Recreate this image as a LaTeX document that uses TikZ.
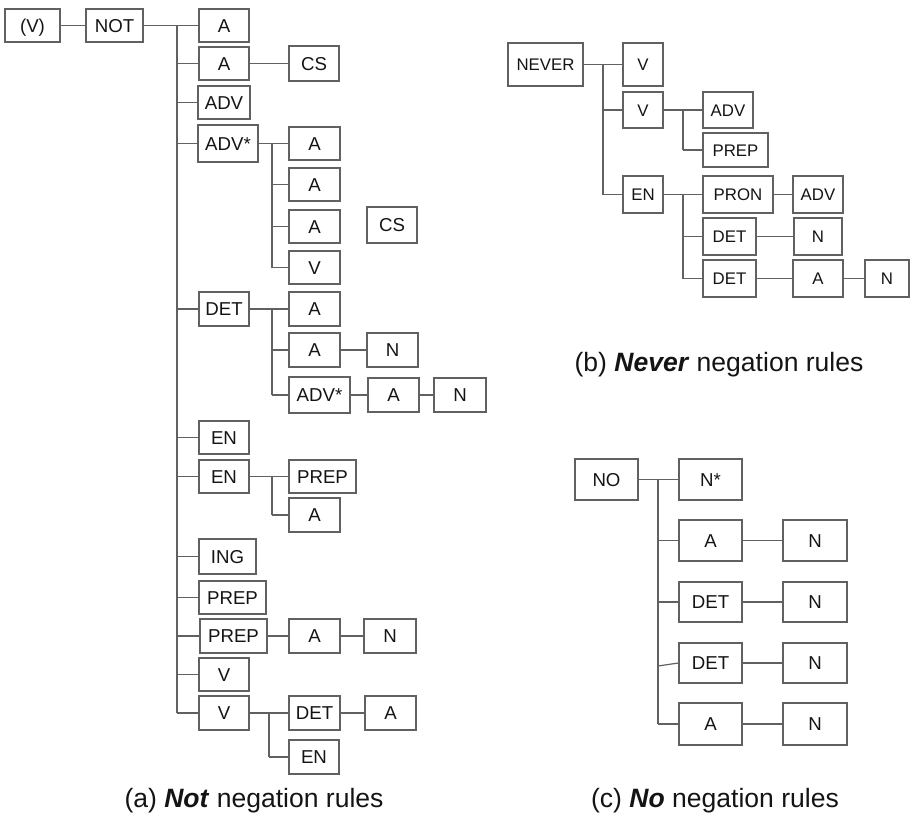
\documentclass[tikz,border=0pt]{standalone}
\usepackage{fontspec}
\setmainfont{Liberation Sans}
\usetikzlibrary{calc}
\definecolor{linec}{gray}{0.38}
\definecolor{inkc}{gray}{0.08}
\tikzset{
  box/.style={draw=linec, line width=0.9pt, inner sep=0pt, text=inkc,
    font=\fontsize{14}{15}\selectfont, text height=10pt, text depth=0pt},
  boxs/.style={box, font=\fontsize{12.6}{13}\selectfont, text height=9pt},
  link/.style={draw=linec, line width=0.9pt},
  captxt/.style={inner sep=0pt, text=inkc, font=\fontsize{19.9}{22}\selectfont},
}
% \mkbox{style}{name}{x1}{x2}{y1}{y2}{label}, corners given in pixel units
\newcommand\mkbox[7]{\node[#1, minimum width={(#4-#3)*0.75pt}, minimum height={(#6-#5)*0.75pt}] (#2) at ({(#3+#4)/2},{(#5+#6)/2}) {#7};}
\begin{document}
\begin{tikzpicture}[x=0.75pt, y=-0.75pt]
\useasboundingbox (0,0) rectangle (910,815);
\clip (0,0) rectangle (910,815);

% ---------------- (a) NOT rules ----------------
\mkbox{box}{v}{5}{60}{9}{42}{(V)}
\mkbox{box}{not}{86}{143}{9}{42}{NOT}
\coordinate (t1) at (177,0);
\mkbox{box}{n1}{199}{249}{9}{42}{A}
\mkbox{box}{n2}{199}{249}{47}{80}{A}
\mkbox{box}{n2a}{289}{339}{46}{81}{CS}
\mkbox{box}{n3}{198}{250}{86}{119}{ADV}
\mkbox{box}{n4}{198}{258}{125}{162}{ADV*}
\coordinate (t4) at (272,0);
\mkbox{box}{n4a}{289}{340}{127}{160}{A}
\mkbox{box}{n4b}{289}{340}{168}{201}{A}
\mkbox{box}{n4c}{289}{340}{210}{243}{A}
\mkbox{box}{n4x}{367}{417}{207}{243}{CS}
\mkbox{box}{n4d}{289}{340}{251}{284}{V}
\mkbox{box}{n5}{199}{249}{292}{326}{DET}
\coordinate (t5) at (272,0);
\mkbox{box}{n5a}{289}{340}{292}{326}{A}
\mkbox{box}{n5b}{289}{340}{333}{367}{A}
\mkbox{box}{n5bn}{367}{418}{333}{367}{N}
\mkbox{box}{n5c}{289}{350}{377}{413}{ADV*}
\mkbox{box}{n5ca}{368}{419}{378}{412}{A}
\mkbox{box}{n5cn}{434}{486}{378}{412}{N}
\mkbox{box}{n6}{199}{249}{421}{454}{EN}
\mkbox{box}{n7}{199}{249}{460}{493}{EN}
\coordinate (t7) at (272,0);
\mkbox{box}{n7a}{289}{356}{460}{493}{PREP}
\mkbox{box}{n7b}{289}{340}{498}{532}{A}
\mkbox{box}{n8}{199}{256}{539}{574}{ING}
\mkbox{box}{n9}{199}{266}{581}{614}{PREP}
\mkbox{box}{n10}{200}{267}{619}{653}{PREP}
\mkbox{box}{n10a}{289}{340}{619}{653}{A}
\mkbox{box}{n10n}{364}{416}{619}{653}{N}
\mkbox{box}{n11}{199}{249}{658}{691}{V}
\mkbox{box}{n12}{199}{249}{696}{730}{V}
\coordinate (t12) at (269,0);
\mkbox{box}{n12a}{289}{340}{696}{730}{DET}
\mkbox{box}{n12an}{365}{416}{696}{730}{A}
\mkbox{box}{n12b}{289}{339}{740}{774}{EN}

\draw[link] (v) -- (not);
\draw[link] (not.east) -- (not.east -| t1) -- (n12.west -| t1);
\foreach \c in {n1,n2,n3,n4,n5,n6,n7,n8,n9,n10,n11,n12}
  \draw[link] (\c.west) -- (\c.west -| t1);
\draw[link] (n2) -- (n2a);
\draw[link] (n4.east) -- (n4.east -| t4) -- (n4d.west -| t4);
\foreach \c in {n4a,n4b,n4c,n4d}
  \draw[link] (\c.west) -- (\c.west -| t4);
\draw[link] (n5.east) -- (n5.east -| t5) -- (n5c.west -| t5);
\foreach \c in {n5a,n5b,n5c}
  \draw[link] (\c.west) -- (\c.west -| t5);
\draw[link] (n5b) -- (n5bn);
\draw[link] (n5c) -- (n5ca) -- (n5cn);
\draw[link] (n7.east) -- (n7.east -| t7) -- (n7b.west -| t7);
\foreach \c in {n7a,n7b}
  \draw[link] (\c.west) -- (\c.west -| t7);
\draw[link] (n10) -- (n10a) -- (n10n);
\draw[link] (n12.east) -- (n12.east -| t12) -- (n12b.west -| t12);
\foreach \c in {n12a,n12b}
  \draw[link] (\c.west) -- (\c.west -| t12);
\draw[link] (n12a) -- (n12an);

\node[captxt, anchor=base] (capa) at (254,807) {(a) \textbf{\textit{Not}} negation rules};

% ---------------- (b) NEVER rules ----------------
\mkbox{boxs}{nev}{508}{583}{43}{86}{NEVER}
\coordinate (tb) at (603,0);
\mkbox{boxs}{b1}{623}{663}{43}{86}{V}
\mkbox{boxs}{b2}{623}{663}{92}{128}{V}
\coordinate (tb2) at (683,0);
\mkbox{boxs}{b2a}{703}{753}{92}{128}{ADV}
\mkbox{boxs}{b2b}{703}{768}{133}{167}{PREP}
\mkbox{boxs}{b3}{623}{663}{176}{213}{EN}
\coordinate (tb3) at (683,0);
\mkbox{boxs}{b3a}{703}{773}{176}{213}{PRON}
\mkbox{boxs}{b3an}{793}{843}{176}{213}{ADV}
\mkbox{boxs}{b3b}{703}{756}{218}{255}{DET}
\mkbox{boxs}{b3bn}{794}{842}{218}{255}{N}
\mkbox{boxs}{b3c}{703}{756}{260}{297}{DET}
\mkbox{boxs}{b3ca}{793}{843}{260}{297}{A}
\mkbox{boxs}{b3cn}{865}{909}{260}{297}{N}

\draw[link] (nev.east) -- (nev.east -| tb) -- (b3.west -| tb);
\foreach \c in {b1,b2,b3}
  \draw[link] (\c.west) -- (\c.west -| tb);
\draw[link] (b2.east) -- (b2.east -| tb2) -- (b2b.west -| tb2);
\foreach \c in {b2a,b2b}
  \draw[link] (\c.west) -- (\c.west -| tb2);
\draw[link] (b3.east) -- (b3.east -| tb3) -- (b3c.west -| tb3);
\foreach \c in {b3a,b3b,b3c}
  \draw[link] (\c.west) -- (\c.west -| tb3);
\draw[link] (b3a) -- (b3an);
\draw[link] (b3b) -- (b3bn);
\draw[link] (b3c) -- (b3ca) -- (b3cn);

\node[captxt, anchor=base] (capb) at (719,371) {(b) \textbf{\textit{Never}} negation rules};

% ---------------- (c) NO rules ----------------
\mkbox{box}{no}{575}{638}{459}{500}{NO}
\coordinate (tc) at (658,0);
\mkbox{box}{c1}{679}{742}{459}{500}{N*}
\mkbox{box}{c2}{679}{742}{520}{561}{A}
\mkbox{box}{c2n}{783}{847}{520}{561}{N}
\mkbox{box}{c3}{679}{742}{582}{622}{DET}
\mkbox{box}{c3n}{783}{847}{582}{622}{N}
\mkbox{box}{c4}{679}{742}{643}{683}{DET}
\mkbox{box}{c4n}{783}{847}{643}{683}{N}
\mkbox{box}{c5}{679}{742}{703}{745}{A}
\mkbox{box}{c5n}{783}{847}{703}{745}{N}

\draw[link] (no.east) -- (no.east -| tc) -- (c5.west -| tc);
\foreach \c in {c1,c2,c3,c5}
  \draw[link] (\c.west) -- (\c.west -| tc);
% this branch meets the trunk a little lower than the box centre
\draw[link] (c4.west) -- ($(c4.west -| tc)+(0,3)$);
\foreach \c in {c2,c3,c4,c5}
  \draw[link] (\c) -- (\c n);

\node[captxt, anchor=base] (capc) at (715,807) {(c) \textbf{\textit{No}} negation rules};
\end{tikzpicture}
\end{document}
